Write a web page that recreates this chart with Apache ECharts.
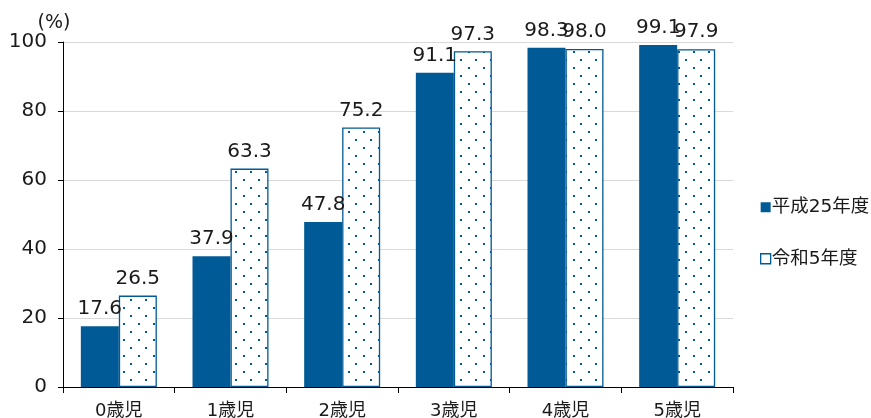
<!DOCTYPE html>
<html><head><meta charset="utf-8">
<script src="https://cdn.jsdelivr.net/npm/echarts@6/dist/echarts.min.js"></script>
<style>html,body{margin:0;padding:0;background:#fff}#c{width:871px;height:418px}</style>
</head><body><div id="c"></div>
<script>
const categories = ['0歳児','1歳児','2歳児','3歳児','4歳児','5歳児'];
const seriesH25 = [17.6, 37.9, 47.8, 91.1, 98.3, 99.1];
const seriesR5 = [26.5, 63.3, 75.2, 97.3, 98.0, 97.9];
const yTicks = [0, 20, 40, 60, 80, 100];
const names = ['平成25年度', '令和5年度'];

const blue = '#005a96';
const txt = '#1a1a1a';
const font = '"DejaVu Sans", "Noto Sans CJK JP", sans-serif';

const pc = document.createElement('canvas');
pc.width = 15; pc.height = 16;
const g = pc.getContext('2d');
g.fillStyle = '#fff'; g.fillRect(0,0,15,16);
g.fillStyle = blue;
g.fillRect(3,3,2,2);
g.fillRect(10,11,2,2);

const chart = echarts.init(document.getElementById('c'));
chart.setOption({
  animation: false,
  textStyle: {fontFamily: font},
  grid: {left: 63, right: 138, top: 42, bottom: 31, containLabel: false, outerBoundsMode: 'none'},
  legend: {
    orient: 'vertical', left: 755, top: 193, itemGap: 33,
    itemWidth: 10, itemHeight: 10, icon: 'rect',
    textStyle: {fontSize: 18.5, color: txt, fontFamily: font, padding: [0,0,0,-4]},
    data: [
      {name: names[0]},
      {name: names[1], itemStyle: {color: '#fff', borderColor: blue, borderWidth: 1.3}}
    ]
  },
  xAxis: {
    type: 'category', data: categories,
    axisLine: {lineStyle: {color: '#000', width: 1}},
    axisTick: {show: true, length: 6, lineStyle: {color: '#000'}},
    axisLabel: {fontSize: 18, color: txt, margin: 15, fontFamily: font}
  },
  yAxis: {
    type: 'value', min: 0, max: 100, interval: 20,
    name: '(%)', nameLocation: 'end', nameGap: 8,
    nameTextStyle: {fontSize: 19, color: txt, fontFamily: font, align: 'center', padding: [0,0,0,-18]},
    axisLine: {show: true, lineStyle: {color: '#000'}},
    axisTick: {show: true, length: 5, lineStyle: {color: '#000'}},
    axisLabel: {fontSize: 20, color: txt, margin: 16, fontFamily: font,
      formatter: v => yTicks.includes(v) ? String(v) : ''},
    splitLine: {lineStyle: {color: '#d9d9d9'}}
  },
  series: [
    {
      name: names[0], type: 'bar', data: seriesH25, barWidth: 38, barGap: '0%',
      itemStyle: {color: blue},
      label: {show: true, position: 'top', fontSize: 20, color: txt, distance: 7, fontFamily: font,
        formatter: p => p.value.toFixed(1)}
    },
    {
      name: names[1], type: 'bar', data: seriesR5, barWidth: 38,
      itemStyle: {color: {image: pc, repeat: 'repeat'}, borderColor: blue, borderWidth: 1.3},
      label: {show: true, position: 'top', fontSize: 20, color: txt, distance: 7, fontFamily: font,
        formatter: p => p.value.toFixed(1)}
    }
  ]
});
</script></body></html>
